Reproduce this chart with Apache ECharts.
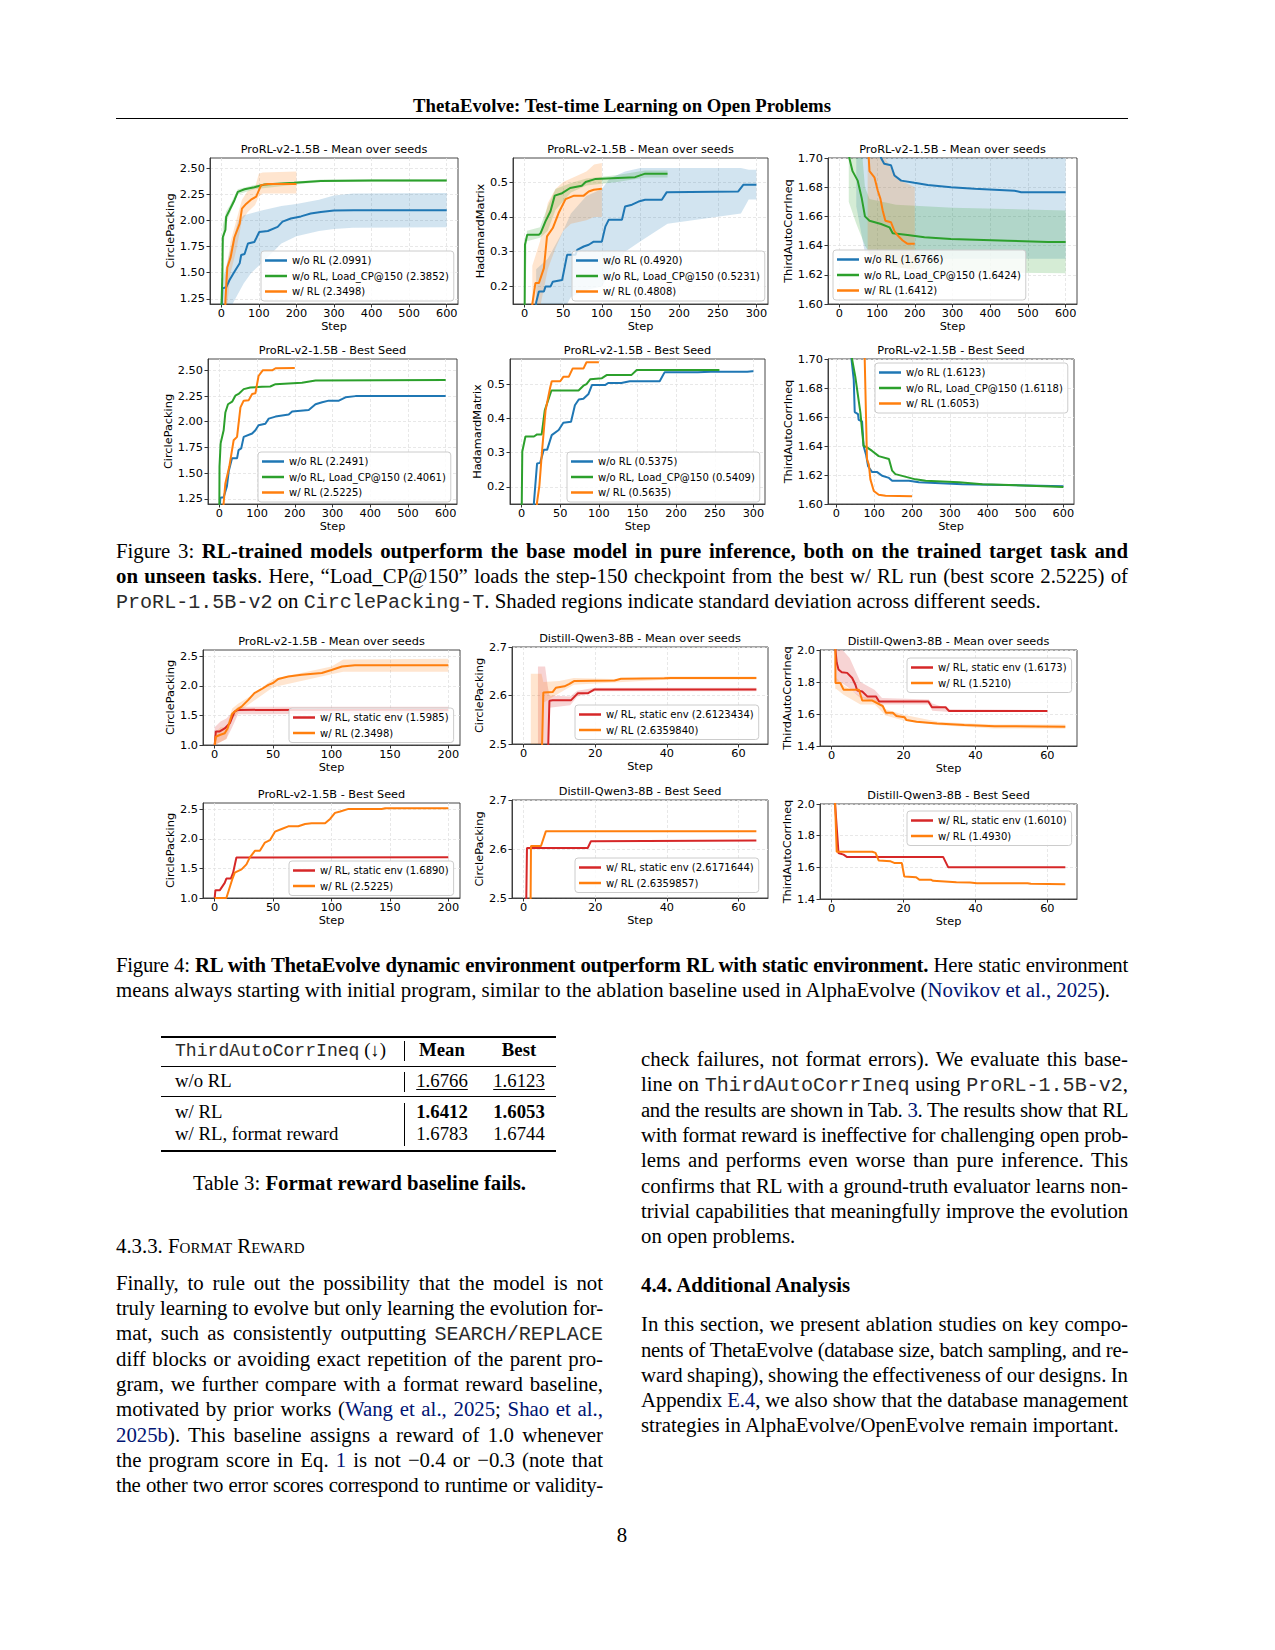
<!DOCTYPE html>
<html>
<head>
<meta charset="utf-8">
<script src="https://cdn.jsdelivr.net/npm/echarts@6/dist/echarts.min.js"></script>
<style>
  html, body { margin: 0; padding: 0; background: #fff; }
  #page { position: relative; width: 1275px; height: 1650px; overflow: hidden;
          font-family: 'Liberation Serif', 'Times New Roman', serif; color: #000; }
  #chart { position: absolute; left: 0; top: 0; width: 1275px; height: 1650px; }
  .t { position: absolute; font-size: 20.8px; line-height: 26px; white-space: nowrap; }
  .j { text-align: justify; text-align-last: justify; word-spacing: -3px; }
  .mono { font-family: 'Liberation Mono', 'DejaVu Sans Mono', monospace; font-size: 0.965em; color: #2a2a2a; }
  .lnk { color: #001473; }
  .rule { position: absolute; background: #000; }
  .tb { position: absolute; font-size: 18.75px; line-height: 24px; white-space: nowrap; }
  .c { text-align: center; }
  .u { text-decoration: underline; text-underline-offset: 2px; text-decoration-thickness: 1px; }
</style>
</head>
<body>
<div id="page">
  <div id="chart"></div>

  <div class="t c" style="left:116px;top:93px;width:1012px;font-size:18.75px;"><b>ThetaEvolve: Test-time Learning on Open Problems</b></div>
  <div class="rule" style="left:116px;top:118px;width:1012px;height:1px;"></div>

  <div class="t j" style="left:116px;top:538px;width:1012px;">Figure 3: <b>RL-trained models outperform the base model in pure inference, both on the trained target task and</b></div>
  <div class="t j" style="left:116px;top:563px;width:1012px;"><b>on unseen tasks</b>. Here, “Load_CP@150” loads the step-150 checkpoint from the best w/ RL run (best score 2.5225) of</div>
  <div class="t" style="left:116px;top:588px;"><span class="mono">ProRL-1.5B-v2</span> on <span class="mono">CirclePacking-T</span>. Shaded regions indicate standard deviation across different seeds.</div>

  <div class="t j" style="left:116px;top:952px;width:1012px;letter-spacing:-0.27px;">Figure 4: <b>RL with ThetaEvolve dynamic environment outperform RL with static environment.</b> Here static environment</div>
  <div class="t" style="left:116px;top:977px;">means always starting with initial program, similar to the ablation baseline used in AlphaEvolve (<span class="lnk">Novikov et al., 2025</span>).</div>

  <!-- Table 3 -->
  <div class="rule" style="left:161px;top:1036px;width:395px;height:1.5px;"></div>
  <div class="tb" style="left:175px;top:1038px;"><span class="mono">ThirdAutoCorrIneq</span> (↓)</div>
  <div class="tb c" style="left:412px;top:1038px;width:60px;"><b>Mean</b></div>
  <div class="tb c" style="left:489px;top:1038px;width:60px;"><b>Best</b></div>
  <div class="rule" style="left:161px;top:1066px;width:395px;height:1px;"></div>
  <div class="tb" style="left:175px;top:1069px;">w/o RL</div>
  <div class="tb c" style="left:412px;top:1069px;width:60px;"><span class="u">1.6766</span></div>
  <div class="tb c" style="left:489px;top:1069px;width:60px;"><span class="u">1.6123</span></div>
  <div class="rule" style="left:161px;top:1096px;width:395px;height:1px;"></div>
  <div class="tb" style="left:175px;top:1100px;">w/ RL</div>
  <div class="tb c" style="left:412px;top:1100px;width:60px;"><b>1.6412</b></div>
  <div class="tb c" style="left:489px;top:1100px;width:60px;"><b>1.6053</b></div>
  <div class="tb" style="left:175px;top:1122px;">w/ RL, format reward</div>
  <div class="tb c" style="left:412px;top:1122px;width:60px;">1.6783</div>
  <div class="tb c" style="left:489px;top:1122px;width:60px;">1.6744</div>
  <div class="rule" style="left:161px;top:1150px;width:395px;height:1.5px;"></div>
  <div class="rule" style="left:404px;top:1041px;width:1px;height:20px;"></div>
  <div class="rule" style="left:404px;top:1072px;width:1px;height:20px;"></div>
  <div class="rule" style="left:404px;top:1103px;width:1px;height:43px;"></div>

  <div class="t c" style="left:116px;top:1170px;width:487px;">Table 3: <b>Format reward baseline fails.</b></div>

  <div class="t" style="left:116px;top:1233px;font-variant:small-caps;">4.3.3. Format Reward</div>

  <div class="t j" style="left:116px;top:1270px;width:487px;">Finally, to rule out the possibility that the model is not</div>
  <div class="t j" style="left:116px;top:1295px;width:487px;letter-spacing:-0.1px;">truly learning to evolve but only learning the evolution for-</div>
  <div class="t j" style="left:116px;top:1320px;width:487px;">mat, such as consistently outputting <span class="mono">SEARCH/REPLACE</span></div>
  <div class="t j" style="left:116px;top:1346px;width:487px;">diff blocks or avoiding exact repetition of the parent pro-</div>
  <div class="t j" style="left:116px;top:1371px;width:487px;">gram, we further compare with a format reward baseline,</div>
  <div class="t j" style="left:116px;top:1396px;width:487px;">motivated by prior works (<span class="lnk">Wang et al., 2025</span>; <span class="lnk">Shao et al.,</span></div>
  <div class="t j" style="left:116px;top:1422px;width:487px;"><span class="lnk">2025b</span>). This baseline assigns a reward of 1.0 whenever</div>
  <div class="t j" style="left:116px;top:1447px;width:487px;">the program score in Eq. <span class="lnk">1</span> is not −0.4 or −0.3 (note that</div>
  <div class="t j" style="left:116px;top:1472px;width:487px;letter-spacing:-0.28px;">the other two error scores correspond to runtime or validity-</div>

  <div class="t j" style="left:641px;top:1046px;width:487px;">check failures, not format errors). We evaluate this base-</div>
  <div class="t j" style="left:641px;top:1071px;width:487px;">line on <span class="mono">ThirdAutoCorrIneq</span> using <span class="mono">ProRL-1.5B-v2</span>,</div>
  <div class="t j" style="left:641px;top:1097px;width:487px;letter-spacing:-0.38px;">and the results are shown in Tab. <span class="lnk">3</span>. The results show that RL</div>
  <div class="t j" style="left:641px;top:1122px;width:487px;letter-spacing:-0.28px;">with format reward is ineffective for challenging open prob-</div>
  <div class="t j" style="left:641px;top:1147px;width:487px;">lems and performs even worse than pure inference. This</div>
  <div class="t j" style="left:641px;top:1173px;width:487px;letter-spacing:-0.05px;">confirms that RL with a ground-truth evaluator learns non-</div>
  <div class="t j" style="left:641px;top:1198px;width:487px;letter-spacing:-0.1px;">trivial capabilities that meaningfully improve the evolution</div>
  <div class="t" style="left:641px;top:1223px;">on open problems.</div>

  <div class="t" style="left:641px;top:1272px;"><b>4.4. Additional Analysis</b></div>
  <div class="t j" style="left:641px;top:1311px;width:487px;">In this section, we present ablation studies on key compo-</div>
  <div class="t j" style="left:641px;top:1337px;width:487px;letter-spacing:-0.32px;">nents of ThetaEvolve (database size, batch sampling, and re-</div>
  <div class="t j" style="left:641px;top:1362px;width:487px;">ward shaping), showing the effectiveness of our designs. In</div>
  <div class="t j" style="left:641px;top:1387px;width:487px;letter-spacing:-0.12px;">Appendix <span class="lnk">E.4</span>, we also show that the database management</div>
  <div class="t" style="left:641px;top:1412px;">strategies in AlphaEvolve/OpenEvolve remain important.</div>

  <div class="t c" style="left:116px;top:1522px;width:1012px;">8</div>
</div>

<script>
// ---------- tick labels ----------
const ticksStep600 = [0, 100, 200, 300, 400, 500, 600];
const ticksStep300 = [0, 50, 100, 150, 200, 250, 300];
const ticksStep200 = [0, 50, 100, 150, 200];
const ticksStep60 = [0, 20, 40, 60];
const ticksCP = [1.25, 1.5, 1.75, 2.0, 2.25, 2.5];
const ticksHM = [0.2, 0.3, 0.4, 0.5];
const ticksTAC = [1.60, 1.62, 1.64, 1.66, 1.68, 1.70];
const ticksCPrl = [1.0, 1.5, 2.0, 2.5];
const ticksQCP = [2.5, 2.6, 2.7];
const ticksQTAC = [1.4, 1.6, 1.8, 2.0];

// ---------- Figure 3: CirclePacking, mean over seeds  [step, value] / [step, low, high] ----------
const cpMeanWoRL = [[0,1.05],[3,1.35],[13,1.36],[22,1.43],[35,1.51],[49,1.59],[53,1.67],[62,1.68],[71,1.78],[88,1.795],[93,1.83],[101,1.89],[124,1.90],[150,1.94],[163,1.99],[185,2.02],[212,2.04],[238,2.067],[265,2.083],[300,2.097],[353,2.099],[600,2.099]];
const cpMeanLoadCP = [[0,1.10],[3,1.49],[4,1.84],[11,1.91],[13,2.035],[22,2.10],[35,2.195],[44,2.275],[62,2.30],[88,2.32],[115,2.345],[194,2.362],[265,2.38],[400,2.385],[600,2.385]];
const cpMeanWRL = [[10,1.0],[11,1.23],[16,1.55],[25,1.65],[35,1.84],[49,1.97],[55,2.115],[66,2.16],[79,2.20],[93,2.23],[106,2.34],[124,2.35],[200,2.35]];
const cpMeanWoRLBand = [[0,1.0,1.3],[5,1.1,1.45],[30,1.2,1.8],[45,1.3,2.0],[60,1.4,2.05],[80,1.5,2.07],[110,1.6,2.1],[160,1.78,2.14],[200,1.85,2.16],[260,1.9,2.2],[300,1.92,2.24],[350,1.93,2.26],[600,1.935,2.265]];
const cpMeanLoadCPBand = [[0,1.0,1.2],[4,1.7,1.95],[13,1.98,2.09],[22,2.06,2.14],[44,2.25,2.30],[88,2.30,2.34],[200,2.345,2.375],[265,2.37,2.395],[600,2.372,2.398]];
const cpMeanWRLBand = [[10,1.0,1.45],[25,1.5,1.8],[40,1.72,2.0],[55,2.0,2.2],[70,2.08,2.28],[90,2.15,2.32],[100,2.23,2.45],[110,2.26,2.46],[200,2.26,2.47]];

// HadamardMatrix, mean over seeds
const hmMeanWoRL = [[14,0.10],[15,0.155],[18.5,0.186],[25,0.186],[27,0.2],[33.5,0.2],[36.5,0.214],[48.6,0.219],[55,0.291],[65.8,0.291],[68,0.305],[76.5,0.315],[83,0.32],[89.4,0.329],[100,0.329],[104.5,0.372],[109,0.392],[126,0.392],[130,0.43],[139,0.435],[147.5,0.444],[156,0.449],[177.6,0.449],[184,0.471],[276.5,0.473],[283,0.492],[300,0.492]];
const hmMeanLoadCP = [[0,0.10],[0.5,0.32],[3.4,0.349],[18.5,0.349],[20.6,0.353],[27,0.387],[33.5,0.416],[39,0.461],[48.6,0.468],[59,0.483],[74,0.4895],[79,0.50],[92,0.509],[113,0.511],[143,0.514],[156,0.524],[185,0.524]];
const hmMeanWRL = [[9,0.10],[10,0.15],[14,0.21],[18.5,0.21],[25,0.253],[29,0.344],[36.5,0.368],[44,0.411],[53,0.451],[64,0.461],[76.5,0.461],[83,0.473],[89.4,0.478],[100,0.481]];
const hmMeanWoRLBand = [[15,0.10,0.25],[30,0.11,0.28],[50,0.13,0.36],[60,0.17,0.41],[80,0.19,0.46],[100,0.2,0.48],[110,0.24,0.51],[130,0.3,0.53],[150,0.33,0.54],[185,0.38,0.54],[280,0.41,0.54],[290,0.45,0.535],[300,0.45,0.535]];
const hmMeanLoadCPBand = [[0,0.1,0.2],[3,0.33,0.36],[20,0.34,0.37],[30,0.36,0.43],[40,0.42,0.48],[60,0.47,0.497],[80,0.49,0.51],[120,0.5,0.52],[156,0.513,0.533],[185,0.513,0.533]];
const hmMeanWRLBand = [[10,0.12,0.26],[20,0.14,0.33],[30,0.25,0.44],[40,0.31,0.48],[50,0.36,0.5],[60,0.38,0.51],[80,0.39,0.53],[90,0.40,0.55],[100,0.40,0.555]];

// ThirdAutoCorrIneq, mean over seeds
const tacMeanWoRL = [[45,1.90],[90,1.73],[110.6,1.70],[119,1.696],[137,1.695],[146,1.688],[164,1.6845],[199,1.683],[234.5,1.6815],[296,1.680],[358,1.679],[464.6,1.6776],[482,1.6766],[600,1.6766]];
const tacMeanLoadCP = [[20,1.80],[26.5,1.70],[35,1.691],[48.7,1.6845],[59,1.673],[68,1.66],[80,1.657],[110.6,1.6548],[133,1.6525],[141.6,1.6484],[181,1.6473],[225.7,1.6457],[296,1.6445],[447,1.6434],[553,1.6424],[600,1.6424]];
const tacMeanWRL = [[70,1.80],[78,1.70],[80,1.691],[93,1.6868],[102,1.6776],[109,1.672],[115,1.664],[122,1.657],[137,1.656],[146,1.650],[155,1.6469],[168,1.6435],[181,1.6412],[200,1.6412]];
const tacMeanWoRLBand = [[45,1.667,1.80],[68,1.635,1.80],[100,1.631,1.80],[600,1.631,1.80]];
const tacMeanLoadCPBand = [[25,1.67,1.80],[45,1.655,1.75],[68,1.64,1.68],[80,1.635,1.672],[150,1.625,1.668],[300,1.622,1.666],[600,1.621,1.664]];
const tacMeanWRLBand = [[75,1.635,1.80],[120,1.628,1.70],[160,1.625,1.685],[200,1.623,1.68]];

// Best seed
const cpBestWoRL = [[0,1.10],[2.7,1.26],[11.5,1.266],[20,1.37],[25,1.52],[33.6,1.644],[47,1.644],[51,1.724],[58,1.74],[64.6,1.853],[87,1.885],[95.6,1.917],[104,1.965],[122,1.98],[131,2.03],[149,2.05],[184,2.07],[193,2.10],[237,2.115],[255,2.17],[272.6,2.19],[290,2.205],[317,2.205],[334.5,2.237],[361,2.249],[600,2.249]];
const cpBestLoadCP = [[0,1.10],[0.5,1.564],[3.5,1.79],[11.5,1.917],[16,2.09],[23,2.17],[34,2.195],[42.5,2.253],[51,2.27],[64.6,2.317],[82,2.333],[113,2.34],[135,2.343],[149,2.365],[219,2.38],[255,2.40],[600,2.406]];
const cpBestWRL = [[10,1.10],[11.5,1.21],[16,1.40],[26.5,1.564],[38,1.82],[47,1.853],[56,2.14],[64.6,2.205],[78,2.21],[87,2.27],[95.6,2.276],[104,2.445],[115,2.50],[140,2.50],[149,2.52],[200,2.5225]];

const hmBestWoRL = [[15,0.10],[16,0.155],[20,0.268],[24,0.27],[28.7,0.308],[33,0.308],[39,0.351],[48,0.366],[54,0.387],[64,0.39],[69,0.438],[74,0.455],[80,0.457],[86.6,0.471],[91,0.497],[108,0.497],[112,0.503],[129,0.503],[140,0.508],[178.7,0.508],[185,0.534],[228,0.534],[245,0.536],[292,0.536],[298.6,0.5375],[300,0.5375]];
const hmBestLoadCP = [[0,0.10],[0.9,0.303],[5,0.347],[16,0.347],[20,0.353],[26,0.353],[30,0.423],[38.6,0.481],[73.7,0.481],[80,0.495],[84,0.50],[89,0.514],[104,0.517],[110,0.526],[142,0.526],[149,0.541],[256,0.541]];
const hmBestWRL = [[19,0.10],[20,0.155],[23,0.203],[26.6,0.308],[31,0.423],[37,0.49],[39,0.508],[50,0.508],[54,0.521],[61,0.521],[66,0.545],[80,0.545],[84,0.5635],[100,0.5635]];

const tacBestWoRL = [[30,1.80],[40,1.70],[46,1.6858],[48.6,1.6634],[57.4,1.662],[59,1.658],[68,1.657],[72,1.64],[78.6,1.634],[84,1.626],[94.5,1.622],[108,1.622],[121,1.6195],[139,1.618],[147.5,1.616],[192,1.616],[218,1.615],[333,1.6137],[600,1.6123]];
const tacBestLoadCP = [[30,1.78],[41.5,1.70],[50,1.688],[63.6,1.663],[72,1.64],[81,1.639],[94.5,1.6366],[112,1.633],[139,1.631],[147.5,1.623],[156,1.6206],[174,1.6194],[209,1.617],[236,1.616],[324,1.615],[386,1.6137],[600,1.6118]];
const tacBestWRL = [[72,1.80],[75,1.70],[81,1.631],[86,1.627],[90,1.617],[99,1.609],[112,1.6064],[130,1.6057],[200,1.6053]];

// ---------- Figure 4: static vs dynamic environment ----------
const cpMeanStatic = [[0,1.0],[1,1.23],[4.3,1.23],[8.6,1.28],[13,1.37],[17,1.567],[20,1.595],[200,1.5985]];
const cpMeanDyn = [[0,1.0],[1,1.14],[4.3,1.17],[8.6,1.20],[11,1.28],[15,1.53],[18.6,1.59],[23,1.65],[28.6,1.76],[34,1.88],[40,1.945],[46,2.02],[50,2.05],[54.4,2.12],[63,2.16],[74.5,2.19],[91.7,2.22],[100,2.27],[109,2.33],[120,2.35],[200,2.3498]];
const cpMeanStaticBand = [[0,1.0,1.3],[5,1.05,1.4],[10,1.1,1.45],[15,1.3,1.55],[20,1.52,1.65],[200,1.54,1.65]];
const cpMeanDynBand = [[0,1.0,1.2],[5,1.05,1.3],[10,1.1,1.3],[15,1.45,1.62],[20,1.55,1.7],[30,1.7,1.82],[50,1.98,2.12],[100,2.2,2.33],[110,2.24,2.45],[200,2.24,2.46]];

const qCpMeanStatic = [[6.7,2.45],[7.2,2.589],[8.1,2.590],[13.2,2.590],[15.1,2.6044],[17.9,2.6044],[19.8,2.6126],[65,2.6123]];
const qCpMeanDyn = [[5,2.45],[5.5,2.606],[8.1,2.607],[9,2.616],[11.4,2.619],[12.8,2.624],[14.2,2.63],[25.4,2.631],[27.2,2.6344],[39.3,2.6355],[41.2,2.636],[65,2.636]];
const qCpMeanStaticBand = [[4,2.45,2.66],[6,2.45,2.66],[6.7,2.5,2.62],[7.2,2.575,2.60],[13,2.58,2.598],[15,2.598,2.61],[20,2.609,2.616],[65,2.609,2.616]];
const qCpMeanDynBand = [[2,2.45,2.645],[5,2.45,2.645],[5.5,2.585,2.628],[10,2.605,2.63],[14,2.622,2.636],[25,2.627,2.634],[41,2.633,2.639],[65,2.633,2.639]];

const qTacMeanStatic = [[1,2.1],[1.05,2.0],[1.4,1.92],[1.9,1.878],[2.8,1.861],[4.3,1.857],[5.7,1.825],[6.6,1.783],[7.1,1.747],[8.5,1.741],[9.9,1.71],[12.3,1.71],[13.2,1.678],[26.9,1.678],[27.9,1.642],[31.7,1.642],[32.6,1.619],[60,1.618]];
const qTacMeanDyn = [[1,2.1],[1.05,1.794],[2.4,1.794],[3.3,1.752],[7.6,1.752],[8.5,1.684],[11.3,1.684],[14.2,1.65],[15.1,1.608],[17,1.608],[18,1.587],[20.3,1.579],[20.8,1.562],[23.6,1.552],[29.3,1.541],[36.9,1.531],[45.4,1.524],[65,1.521]];
const qTacMeanStaticBand = [[1,1.8,2.1],[3,1.79,2.0],[5,1.76,1.95],[8,1.70,1.80],[12,1.68,1.75],[14,1.66,1.70],[27,1.66,1.69],[28,1.62,1.665],[33,1.612,1.63],[60,1.612,1.625]];
const qTacMeanDynBand = [[1,1.75,2.1],[1.1,1.76,1.83],[3.3,1.72,1.78],[8,1.66,1.71],[12,1.66,1.70],[15,1.59,1.63],[20,1.56,1.595],[30,1.53,1.55],[45,1.51,1.535],[65,1.508,1.535]];

const cpBestStatic = [[0,1.0],[0.6,1.13],[4.3,1.13],[8.6,1.257],[10,1.33],[13.8,1.33],[15.8,1.43],[18.6,1.685],[200,1.689]];
const cpBestDyn = [[0,1.0],[10,1.0],[15,1.314],[17.2,1.43],[23,1.485],[27.2,1.57],[30,1.685],[34.4,1.80],[38.7,1.80],[43,1.94],[47.3,1.98],[51.6,2.124],[57.3,2.17],[63,2.215],[71.6,2.215],[77.4,2.255],[83,2.266],[94.5,2.266],[98.8,2.34],[103,2.443],[107.4,2.466],[114.6,2.51],[143,2.51],[146,2.5225],[200,2.5225]];

const qCpBestStatic = [[0.65,2.45],[0.93,2.602],[17.9,2.602],[18.8,2.616],[65,2.6172]];
const qCpBestDyn = [[1.9,2.45],[2.05,2.606],[4.85,2.606],[6.2,2.636],[65,2.636]];

const qTacBestStatic = [[0.94,2.1],[0.95,2.0],[1.9,1.69],[2.3,1.687],[3.3,1.68],[4.2,1.666],[31,1.666],[32.4,1.601],[65,1.601]];
const qTacBestDyn = [[0.94,2.1],[0.95,2.0],[1.4,1.698],[11.3,1.698],[12.2,1.691],[13.1,1.643],[16.4,1.638],[17.4,1.628],[19.5,1.628],[20.2,1.542],[23.5,1.538],[24.4,1.521],[27.7,1.521],[28.2,1.515],[34.7,1.506],[38.5,1.504],[40.4,1.50],[54.5,1.50],[55.4,1.4957],[65,1.493]];

// ---------- styling ----------
const FONT = 'DejaVu Sans';
const BLUE = '#1f77b4', ORANGE = '#ff7f0e', GREEN = '#2ca02c', RED = '#d62728';
const T_MEAN = 'ProRL-v2-1.5B - Mean over seeds';
const T_BEST = 'ProRL-v2-1.5B - Best Seed';
const Q_MEAN = 'Distill-Qwen3-8B - Mean over seeds';
const Q_BEST = 'Distill-Qwen3-8B - Best Seed';

// box = [left, top, right, bottom] of the plot area in page pixels
const panels = [
  { box: [210, 158, 458, 304], x: [-30, 630], xt: ticksStep600, y: [1.2, 2.6], yt: ticksCP, yd: 2,
    yname: 'CirclePacking', ygap: 31, title: T_MEAN, leg: [261, 251],
    lines: [['w/o RL (2.0991)', cpMeanWoRL, BLUE], ['w/o RL, Load_CP@150 (2.3852)', cpMeanLoadCP, GREEN], ['w/ RL (2.3498)', cpMeanWRL, ORANGE]],
    bands: [[cpMeanWoRLBand, BLUE], [cpMeanLoadCPBand, GREEN], [cpMeanWRLBand, ORANGE]] },
  { box: [513, 158, 768, 304], x: [-15, 315], xt: ticksStep300, y: [0.15, 0.569], yt: ticksHM, yd: 1,
    yname: 'HadamardMatrix', ygap: 25, title: T_MEAN, leg: [572, 251],
    lines: [['w/o RL (0.4920)', hmMeanWoRL, BLUE], ['w/o RL, Load_CP@150 (0.5231)', hmMeanLoadCP, GREEN], ['w/ RL (0.4808)', hmMeanWRL, ORANGE]],
    bands: [[hmMeanWoRLBand, BLUE], [hmMeanLoadCPBand, GREEN], [hmMeanWRLBand, ORANGE]] },
  { box: [828, 158, 1077, 304], x: [-30, 630], xt: ticksStep600, y: [1.60, 1.70], yt: ticksTAC, yd: 2,
    yname: 'ThirdAutoCorrIneq', ygap: 32, title: T_MEAN, leg: [833, 250],
    lines: [['w/o RL (1.6766)', tacMeanWoRL, BLUE], ['w/o RL, Load_CP@150 (1.6424)', tacMeanLoadCP, GREEN], ['w/ RL (1.6412)', tacMeanWRL, ORANGE]],
    bands: [[tacMeanWoRLBand, BLUE], [tacMeanLoadCPBand, GREEN], [tacMeanWRLBand, ORANGE]] },
  { box: [208, 359, 457, 504], x: [-30, 630], xt: ticksStep600, y: [1.2, 2.61], yt: ticksCP, yd: 2,
    yname: 'CirclePacking', ygap: 34, title: T_BEST, leg: [258, 452],
    lines: [['w/o RL (2.2491)', cpBestWoRL, BLUE], ['w/o RL, Load_CP@150 (2.4061)', cpBestLoadCP, GREEN], ['w/ RL (2.5225)', cpBestWRL, ORANGE]],
    bands: [] },
  { box: [510, 359, 765, 504], x: [-15, 315], xt: ticksStep300, y: [0.15, 0.573], yt: ticksHM, yd: 1,
    yname: 'HadamardMatrix', ygap: 25, title: T_BEST, leg: [567, 452],
    lines: [['w/o RL (0.5375)', hmBestWoRL, BLUE], ['w/o RL, Load_CP@150 (0.5409)', hmBestLoadCP, GREEN], ['w/ RL (0.5635)', hmBestWRL, ORANGE]],
    bands: [] },
  { box: [828, 359, 1074, 504], x: [-22, 628], xt: ticksStep600, y: [1.60, 1.70], yt: ticksTAC, yd: 2,
    yname: 'ThirdAutoCorrIneq', ygap: 34, title: T_BEST, leg: [875, 363],
    lines: [['w/o RL (1.6123)', tacBestWoRL, BLUE], ['w/o RL, Load_CP@150 (1.6118)', tacBestLoadCP, GREEN], ['w/ RL (1.6053)', tacBestWRL, ORANGE]],
    bands: [] },
  { box: [203, 650, 460, 745], x: [-10, 210], xt: ticksStep200, y: [1.0, 2.61], yt: ticksCPrl, yd: 1,
    yname: 'CirclePacking', ygap: 27, title: T_MEAN, leg: [289, 708],
    lines: [['w/ RL, static env (1.5985)', cpMeanStatic, RED], ['w/ RL (2.3498)', cpMeanDyn, ORANGE]],
    bands: [[cpMeanStaticBand, RED], [cpMeanDynBand, ORANGE]] },
  { box: [512, 647, 768, 744], x: [-3.25, 68.25], xt: ticksStep60, y: [2.5, 2.7], yt: ticksQCP, yd: 1,
    yname: 'CirclePacking', ygap: 27, title: Q_MEAN, leg: [575, 705],
    lines: [['w/ RL, static env (2.6123434)', qCpMeanStatic, RED], ['w/ RL (2.6359840)', qCpMeanDyn, ORANGE]],
    bands: [[qCpMeanStaticBand, RED], [qCpMeanDynBand, ORANGE]] },
  { box: [820, 650, 1077, 746], x: [-3.25, 68.25], xt: ticksStep60, y: [1.4, 2.0], yt: ticksQTAC, yd: 1,
    yname: 'ThirdAutoCorrIneq', ygap: 24, title: Q_MEAN, leg: [907, 658],
    lines: [['w/ RL, static env (1.6173)', qTacMeanStatic, RED], ['w/ RL (1.5210)', qTacMeanDyn, ORANGE]],
    bands: [[qTacMeanStaticBand, RED], [qTacMeanDynBand, ORANGE]] },
  { box: [203, 803, 460, 898], x: [-10, 210], xt: ticksStep200, y: [1.0, 2.61], yt: ticksCPrl, yd: 1,
    yname: 'CirclePacking', ygap: 27, title: T_BEST, leg: [289, 861],
    lines: [['w/ RL, static env (1.6890)', cpBestStatic, RED], ['w/ RL (2.5225)', cpBestDyn, ORANGE]],
    bands: [] },
  { box: [512, 800, 768, 898], x: [-3.25, 68.25], xt: ticksStep60, y: [2.5, 2.7], yt: ticksQCP, yd: 1,
    yname: 'CirclePacking', ygap: 27, title: Q_BEST, leg: [575, 858],
    lines: [['w/ RL, static env (2.6171644)', qCpBestStatic, RED], ['w/ RL (2.6359857)', qCpBestDyn, ORANGE]],
    bands: [] },
  { box: [820, 804, 1077, 899], x: [-3.25, 68.25], xt: ticksStep60, y: [1.4, 2.0], yt: ticksQTAC, yd: 1,
    yname: 'ThirdAutoCorrIneq', ygap: 24, title: Q_BEST, leg: [907, 811],
    lines: [['w/ RL, static env (1.6010)', qTacBestStatic, RED], ['w/ RL (1.4930)', qTacBestDyn, ORANGE]],
    bands: [] }
];

function fade(hex, a) {
  const n = parseInt(hex.slice(1), 16);
  return `rgba(${n >> 16},${(n >> 8) & 255},${n & 255},${a})`;
}

const grid = [], xAxis = [], yAxis = [], series = [], legend = [], graphic = [];
const tickText = { fontSize: 11.3, color: '#000', fontFamily: FONT };
const gridLine = { show: true, lineStyle: { type: [3, 2], color: '#e2e2e2', width: 0.8 } };
const frame = { show: true, onZero: false, lineStyle: { color: '#333', width: 0.9 } };

panels.forEach((p, i) => {
  const [l, t, r, b] = p.box;
  grid.push({ left: l, top: t, width: r - l, height: b - t, show: true,
              borderColor: '#333', borderWidth: 0.9, backgroundColor: 'transparent' });
  xAxis.push({
    type: 'value', gridIndex: i, min: p.x[0], max: p.x[1],
    axisLine: frame,
    axisTick: { show: true, length: 3.5, customValues: p.xt, lineStyle: { color: '#333' } },
    axisLabel: { customValues: p.xt, margin: 4, ...tickText },
    splitLine: gridLine,
    name: 'Step', nameLocation: 'middle', nameGap: 17, nameTextStyle: tickText
  });
  yAxis.push({
    type: 'value', gridIndex: i, min: p.y[0], max: p.y[1],
    axisLine: frame,
    axisTick: { show: true, length: 3.5, customValues: p.yt, lineStyle: { color: '#333' } },
    axisLabel: { customValues: p.yt, margin: 5, formatter: v => v.toFixed(p.yd), ...tickText },
    splitLine: gridLine,
    name: p.yname, nameLocation: 'middle', nameGap: p.ygap, nameTextStyle: tickText
  });

  // shaded std bands: one polygon (upper edge, then lower edge reversed) per band, clipped to the plot
  p.bands.forEach(([band, color]) => {
    series.push({
      type: 'custom', xAxisIndex: i, yAxisIndex: i, silent: true, z: 1, clip: true,
      data: band, encode: { x: 0, y: [1, 2] },
      renderItem: (params, api) => {
        if (params.dataIndex !== 0) return null;
        const upper = band.map(d => api.coord([d[0], d[2]]));
        const lower = band.map(d => api.coord([d[0], d[1]])).reverse();
        const cs = params.coordSys;
        return {
          type: 'polygon', shape: { points: upper.concat(lower) },
          style: { fill: fade(color, 0.2), stroke: null },
          clipPath: { type: 'rect', shape: { x: cs.x, y: cs.y, width: cs.width, height: cs.height } }
        };
      }
    });
  });

  p.lines.forEach(([name, data, color]) => {
    series.push({
      type: 'line', name, xAxisIndex: i, yAxisIndex: i, data, symbol: 'none', z: 3,
      color, itemStyle: { color }, lineStyle: { width: 2, color }
    });
  });

  legend.push({
    left: p.leg[0], top: p.leg[1], orient: 'vertical', selectedMode: false,
    data: p.lines.map(d => d[0]), icon: 'rect', itemWidth: 22, itemHeight: 2.5, itemGap: 4.5,
    textStyle: { fontSize: 10, fontFamily: FONT, color: '#000', lineHeight: 11 },
    backgroundColor: 'rgba(255,255,255,0.8)', borderColor: '#cccccc', borderWidth: 1,
    borderRadius: 3, padding: [4, 5, 4, 4]
  });

  graphic.push({
    type: 'text', x: (l + r) / 2, y: t - 8.5, silent: true,
    style: { text: p.title, fontSize: 11.3, fontFamily: FONT, fill: '#000', align: 'center', verticalAlign: 'middle' }
  });
});

const chart = echarts.init(document.getElementById('chart'), null, { renderer: 'svg' });
chart.setOption({
  animation: false,
  textStyle: { fontFamily: FONT },
  grid, xAxis, yAxis, series, legend, graphic
});
</script>
</body>
</html>
